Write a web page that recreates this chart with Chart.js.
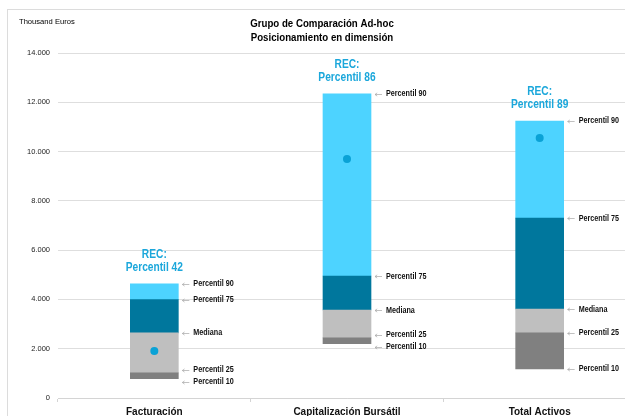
<!DOCTYPE html>
<html>
<head>
<meta charset="utf-8">
<script src="https://cdn.jsdelivr.net/npm/chart.js@4"></script>
<style>
  html, body { margin: 0; padding: 0; background: #fff; overflow: hidden; }
  #wrap { position: absolute; left: 0; top: 0; width: 646px; height: 416px; }
</style>
</head>
<body>
<div id="wrap"><canvas id="myChart"></canvas></div>
<script>
var categories = ['Facturación', 'Capitalización Bursátil', 'Total Activos'];
var p10 = [780, 2200, 1180];
var p25 = [1020, 2440, 2640];
var mediana = [2640, 3570, 3610];
var p75 = [3990, 4950, 7300];
var p90 = [4630, 12340, 11240];
var rec = [1910, 9700, 10550];
var recPercentil = [42, 86, 89];
var yTicks = [0, 2000, 4000, 6000, 8000, 10000, 12000, 14000];

var sans = '"Liberation Sans", Arial, sans-serif';

function pairs(lo, hi) {
    return lo.map(function (v, i) { return [v, hi[i]]; });
}

// arial narrow is not around, so squeeze the text a bit
function narrowText(c, text, x, y, sx) {
    c.save();
    c.translate(x, y);
    c.scale(sx, 1);
    c.fillText(text, 0, 0);
    c.restore();
}

// frame, title and unit text
var decorPlugin = {
    id: 'decor',
    beforeDraw: function (chart) {
        var c = chart.ctx;
        c.save();
        c.strokeStyle = '#dcdcdc';
        c.lineWidth = 1;
        c.strokeRect(7.5, 9.5, 700, 500);
        c.fillStyle = '#000';
        c.font = '8px ' + sans;
        c.textAlign = 'left';
        c.textBaseline = 'middle';
        narrowText(c, 'Thousand Euros', 19, 22, 0.95);
        c.font = 'bold 11px ' + sans;
        c.textAlign = 'center';
        narrowText(c, 'Grupo de Comparación Ad-hoc', 322, 24, 0.88);
        narrowText(c, 'Posicionamiento en dimensión', 322, 38, 0.88);
        c.restore();
    }
};

// percentile callouts and REC labels
var labelPlugin = {
    id: 'callouts',
    afterDatasetsDraw: function (chart) {
        var c = chart.ctx;
        var xs = chart.scales.x, ys = chart.scales.y;
        c.save();
        categories.forEach(function (cat, i) {
            var cx = xs.getPixelForValue(i);
            var right = cx + 24;
            var items = [
                { t: 'Percentil 90', v: p90[i] },
                { t: 'Percentil 75', v: p75[i] },
                { t: 'Mediana', v: mediana[i] },
                { t: 'Percentil 25', v: p25[i] },
                { t: 'Percentil 10', v: p10[i] }
            ];
            items.forEach(function (it) { it.y = ys.getPixelForValue(it.v); });
            for (var k = 1; k < items.length; k++) {
                var gap = items[k].y - items[k - 1].y;
                if (gap < 12) {
                    var mid = (items[k].y + items[k - 1].y) / 2;
                    items[k - 1].y = mid - 6;
                    items[k].y = mid + 6;
                }
            }
            c.textBaseline = 'middle';
            c.textAlign = 'left';
            items.forEach(function (it) {
                var y = Math.round(it.y) + 0.5;
                c.strokeStyle = '#a6a6a6';
                c.lineWidth = 0.7;
                c.beginPath();
                c.moveTo(right + 4, y);
                c.lineTo(right + 11, y);
                c.moveTo(right + 4, y);
                c.lineTo(right + 6.2, y - 1.6);
                c.moveTo(right + 4, y);
                c.lineTo(right + 6.2, y + 1.6);
                c.stroke();
                c.fillStyle = '#111';
                c.font = 'bold 9px ' + sans;
                narrowText(c, it.t, right + 15, it.y, 0.8);
            });
            var top = ys.getPixelForValue(p90[i]);
            c.fillStyle = '#1BA7DB';
            c.font = 'bold 12px ' + sans;
            c.textAlign = 'center';
            narrowText(c, 'REC:', cx, top - 29, 0.85);
            narrowText(c, 'Percentil ' + recPercentil[i], cx, top - 16, 0.85);
        });
        c.restore();
    }
};

var ctx = document.getElementById('myChart').getContext('2d');
var chart = new Chart(ctx, {
    type: 'bar',
    data: {
        labels: categories,
        datasets: [{
            type: 'line',
            label: 'REC',
            data: rec,
            showLine: false,
            pointRadius: 4,
            pointHoverRadius: 4,
            pointBackgroundColor: '#0AA2D6',
            pointBorderWidth: 0,
            order: 0
        }, {
            label: 'P10-P25',
            data: pairs(p10, p25),
            backgroundColor: '#808080',
            grouped: false,
            order: 1
        }, {
            label: 'P25-Mediana',
            data: pairs(p25, mediana),
            backgroundColor: '#BFBFBF',
            grouped: false,
            order: 1
        }, {
            label: 'Mediana-P75',
            data: pairs(mediana, p75),
            backgroundColor: '#00779D',
            grouped: false,
            order: 1
        }, {
            label: 'P75-P90',
            data: pairs(p75, p90),
            backgroundColor: '#4DD3FF',
            grouped: false,
            order: 1
        }]
    },
    options: {
        responsive: true,
        maintainAspectRatio: false,
        animation: false,
        devicePixelRatio: 1,
        barThickness: 48,
        layout: { padding: { top: 53, right: 10, left: 0, bottom: 0 } },
        plugins: {
            legend: { display: false },
            tooltip: { enabled: false }
        },
        scales: {
            x: {
                afterFit: function (s) { s.height = 18; },
                border: { color: '#d4d4d4' },
                grid: { offset: true, drawOnChartArea: false, tickLength: 4, color: '#d4d4d4' },
                ticks: {
                    color: '#111',
                    padding: 4,
                    maxRotation: 0,
                    font: { family: sans, size: 10, weight: 'bold' }
                }
            },
            y: {
                min: 0,
                max: 14000,
                afterFit: function (s) { s.width = 58; },
                afterBuildTicks: function (s) {
                    s.ticks = yTicks.map(function (v) { return { value: v }; });
                },
                border: { display: false },
                grid: { color: '#dedede', tickLength: 8, tickColor: '#fff' },
                ticks: {
                    color: '#222',
                    padding: 0,
                    font: { family: sans, size: 7.5 },
                    callback: function (v) {
                        return v.toString().replace(/\B(?=(\d{3})+(?!\d))/g, '.');
                    }
                }
            }
        }
    },
    plugins: [decorPlugin, labelPlugin]
});
</script>
</body>
</html>
